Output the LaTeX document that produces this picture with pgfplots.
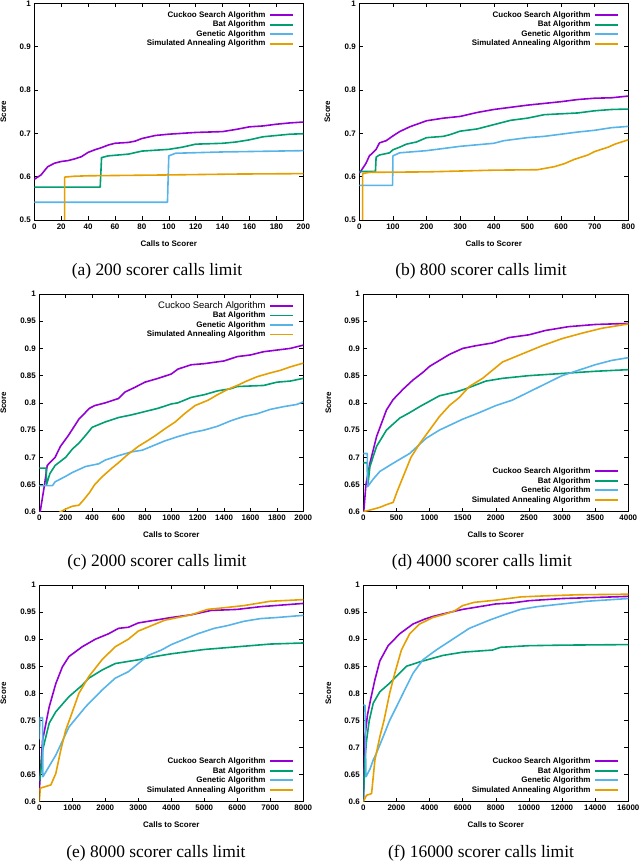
\documentclass[border=0pt]{standalone}
\usepackage{fontspec}
\setmainfont{Liberation Serif}
\setsansfont{Liberation Sans}
\usepackage{pgfplots}
\pgfplotsset{compat=1.18}
\definecolor{cpurple}{HTML}{9400D3}
\definecolor{cgreen}{HTML}{009E73}
\definecolor{cblue}{HTML}{56B4E9}
\definecolor{corange}{HTML}{E69F00}
\newcommand{\tf}{\sffamily\bfseries\fontsize{8}{9}\selectfont}
\newcommand{\capf}{\rmfamily\fontsize{17.5}{20}\selectfont}
\pgfplotsset{
  base/.style={
    scale only axis, anchor=north west,
    axis line style={line width=0.8bp},
    tick style={line width=0.6bp, black},
    major tick length=4bp,
    tick align=inside, xtick pos=both, ytick pos=both,
    tick label style={font=\tf},
    /pgf/number format/assume math mode=true,
    /pgf/number format/1000 sep={},
    /pgf/number format/fixed,
    scaled x ticks=false, scaled y ticks=false,
    xlabel={Calls to Scorer}, ylabel={Score},
    legend plot pos=right,
    legend cell align=right,
    legend image code/.code={\draw[##1] (0bp,0bp) -- (23bp,0bp);},
    legend style={draw=none, fill=none, font=\tf, row sep=0bp, column sep=3bp,
      nodes={inner sep=1bp, text height=6bp, text depth=1.5bp}},
    every axis plot/.append style={line width=1.6bp, line join=round},
  },
  ylab/.style={every axis y label/.style={at={([xshift=-#1]axis description cs:0,0.5)},anchor=center,rotate=90,font=\tf}},
  xlab/.style={every axis x label/.style={at={([yshift=-#1]axis description cs:0.5,0)},anchor=center,font=\tf}},
  legtop/.style={legend style={at={(rel axis cs:1,1)}, anchor=north east, xshift=-6bp, yshift=-5bp}},
  legbot/.style={legend style={at={(rel axis cs:1,0)}, anchor=south east, xshift=-6bp, yshift=5bp}},
  ya/.style={ymin=0.5, ymax=1, ytick={0.5,0.6,0.7,0.8,0.9,1}},
  yc/.style={ymin=0.6, ymax=1, ytick={0.6,0.65,0.7,0.75,0.8,0.85,0.9,0.95,1}},
}
\begin{document}
\begin{tikzpicture}
\useasboundingbox (0,0) rectangle (640bp,-862bp);
% (a)
\begin{axis}[base, ya, ylab=31bp, xlab=24bp, legtop, at={(34.3bp,-3.3bp)}, width=269bp, height=216.7bp,
  xmin=0, xmax=200, xtick={0,20,...,200}]
\addplot[cpurple] coordinates {(0,0.594)(5,0.604)(10,0.623)(15,0.631)(20,0.635)(25,0.637)(30,0.641)(35,0.646)(40,0.656)(45,0.662)(50,0.667)(55,0.673)(60,0.677)(70,0.679)(75,0.682)(80,0.688)(90,0.695)(100,0.698)(120,0.702)(140,0.704)(150,0.709)(160,0.715)(170,0.717)(180,0.721)(190,0.724)(200,0.726)};
\addplot[cgreen] coordinates {(0,0.576)(49,0.576)(50,0.644)(55,0.648)(70,0.652)(80,0.659)(100,0.663)(110,0.668)(120,0.675)(140,0.677)(150,0.680)(160,0.685)(170,0.692)(180,0.695)(190,0.698)(200,0.699)};
\addplot[cblue] coordinates {(0,0.541)(99,0.541)(100,0.648)(105,0.654)(140,0.657)(200,0.660)};
\addplot[corange] coordinates {(22.5,0.4)(22.5,0.599)(30,0.601)(40,0.602)(100,0.604)(150,0.606)(200,0.607)};
\legend{Cuckoo Search Algorithm, Bat Algorithm, Genetic Algorithm, Simulated Annealing Algorithm}
\end{axis}
% (b)
\begin{axis}[base, ya, ylab=32bp, xlab=24bp, legtop, at={(359.3bp,-3.3bp)}, width=269bp, height=216.7bp,
  xmin=0, xmax=800, xtick={0,100,...,800}]
\addplot[cpurple] coordinates {(0,0.608)(10,0.619)(20,0.631)(30,0.648)(40,0.655)(50,0.663)(60,0.678)(80,0.683)(100,0.694)(120,0.704)(150,0.715)(200,0.729)(250,0.735)(300,0.739)(350,0.748)(400,0.755)(450,0.760)(500,0.765)(550,0.769)(600,0.773)(650,0.778)(700,0.781)(750,0.782)(800,0.786)};
\addplot[cgreen] coordinates {(0,0.612)(48,0.612)(50,0.645)(60,0.650)(90,0.655)(100,0.662)(120,0.668)(140,0.675)(170,0.680)(200,0.690)(250,0.693)(270,0.697)(300,0.705)(350,0.710)(400,0.720)(450,0.730)(500,0.735)(550,0.743)(600,0.745)(650,0.747)(700,0.752)(750,0.755)(800,0.756)};
\addplot[cblue] coordinates {(0,0.580)(99,0.580)(100,0.648)(120,0.655)(200,0.660)(250,0.665)(300,0.670)(400,0.677)(430,0.683)(500,0.690)(550,0.693)(600,0.698)(650,0.703)(700,0.707)(750,0.713)(800,0.716)};
\addplot[corange] coordinates {(10,0.4)(10,0.607)(30,0.610)(200,0.611)(300,0.613)(400,0.615)(530,0.616)(580,0.623)(610,0.630)(640,0.640)(680,0.650)(700,0.658)(740,0.668)(760,0.675)(800,0.685)};
\legend{Cuckoo Search Algorithm, Bat Algorithm, Genetic Algorithm, Simulated Annealing Algorithm}
\end{axis}
% (c)
\begin{axis}[base, yc, ylab=36bp, xlab=22.5bp, legtop, at={(39.3bp,-294bp)}, width=264bp, height=217.7bp,
  xmin=0, xmax=2000, xtick={0,200,...,2000}]
\addplot[cpurple] coordinates {(0,0.59)(40,0.65)(60,0.685)(80,0.69)(120,0.7)(160,0.72)(220,0.74)(260,0.755)(300,0.77)(340,0.78)(380,0.79)(420,0.795)(500,0.8)(600,0.808)(650,0.82)(720,0.828)(800,0.838)(900,0.845)(1000,0.853)(1050,0.862)(1150,0.87)(1250,0.872)(1400,0.877)(1500,0.885)(1600,0.888)(1700,0.894)(1800,0.897)(1900,0.9)(2000,0.906)};
\addplot[cgreen] coordinates {(0,0.68)(52,0.68)(55,0.65)(80,0.67)(120,0.685)(200,0.7)(250,0.715)(300,0.726)(350,0.74)(400,0.755)(500,0.765)(600,0.773)(700,0.778)(800,0.784)(900,0.79)(1000,0.798)(1050,0.8)(1150,0.81)(1250,0.815)(1350,0.822)(1450,0.826)(1500,0.83)(1700,0.832)(1800,0.838)(1900,0.84)(2000,0.845)};
\addplot[cblue] coordinates {(0,0.648)(100,0.648)(120,0.655)(200,0.665)(250,0.672)(350,0.683)(450,0.688)(500,0.695)(600,0.703)(700,0.71)(780,0.713)(850,0.72)(950,0.73)(1050,0.738)(1150,0.745)(1250,0.75)(1350,0.757)(1450,0.767)(1550,0.775)(1650,0.78)(1750,0.788)(1850,0.793)(1950,0.797)(2000,0.802)};
\addplot[corange] coordinates {(140,0.597)(200,0.605)(250,0.61)(300,0.612)(330,0.62)(380,0.635)(420,0.65)(480,0.665)(550,0.68)(600,0.69)(670,0.705)(750,0.72)(830,0.732)(880,0.74)(950,0.752)(1030,0.765)(1100,0.78)(1180,0.795)(1280,0.805)(1350,0.815)(1430,0.825)(1500,0.832)(1570,0.84)(1650,0.848)(1750,0.855)(1830,0.86)(1900,0.866)(2000,0.873)};
\addlegendentry{{\fontsize{9.5}{10}\selectfont\mdseries Cuckoo Search Algorithm}}
\addlegendentry{Bat Algorithm}
\addlegendentry{Genetic Algorithm}
\addlegendentry{Simulated Annealing Algorithm}
\end{axis}
% (d)
\begin{axis}[base, yc, ylab=35bp, xlab=22.5bp, legbot, at={(363.3bp,-294bp)}, width=265bp, height=217.7bp,
  xmin=0, xmax=4000, xtick={0,500,...,4000}]
\addplot[cpurple] coordinates {(0,0.59)(40,0.65)(100,0.689)(200,0.738)(350,0.787)(450,0.806)(600,0.825)(750,0.842)(900,0.856)(1000,0.867)(1150,0.878)(1300,0.889)(1500,0.9)(1700,0.905)(1950,0.91)(2200,0.92)(2500,0.925)(2750,0.933)(3100,0.94)(3500,0.944)(4000,0.946)};
\addplot[cgreen] coordinates {(0,0.69)(60,0.69)(70,0.65)(100,0.683)(200,0.72)(350,0.75)(550,0.772)(700,0.782)(850,0.793)(1000,0.803)(1150,0.813)(1400,0.82)(1550,0.826)(1700,0.833)(1850,0.84)(2100,0.845)(2500,0.85)(3000,0.854)(3500,0.858)(4000,0.861)};
\addplot[cblue] coordinates {(0,0.707)(60,0.707)(65,0.646)(150,0.66)(250,0.674)(450,0.689)(700,0.707)(950,0.735)(1150,0.75)(1500,0.77)(1750,0.782)(2000,0.795)(2250,0.805)(2500,0.82)(2750,0.835)(3000,0.85)(3250,0.86)(3500,0.87)(3750,0.878)(4000,0.883)};
\addplot[corange] coordinates {(0,0.6)(100,0.603)(250,0.608)(350,0.613)(450,0.617)(520,0.64)(620,0.67)(720,0.7)(850,0.725)(1000,0.75)(1150,0.775)(1300,0.795)(1450,0.81)(1600,0.83)(1800,0.845)(1950,0.86)(2100,0.875)(2400,0.89)(2700,0.905)(3000,0.918)(3300,0.928)(3600,0.937)(4000,0.945)};
\legend{Cuckoo Search Algorithm, Bat Algorithm, Genetic Algorithm, Simulated Annealing Algorithm}
\end{axis}
% (e)
\begin{axis}[base, yc, ylab=36bp, xlab=23bp, legbot, at={(39.3bp,-585bp)}, width=264bp, height=216.7bp,
  xmin=0, xmax=8000, xtick={0,1000,...,8000}]
\addplot[cpurple] coordinates {(0,0.62)(100,0.714)(300,0.775)(500,0.818)(700,0.849)(900,0.868)(1300,0.886)(1700,0.90)(2100,0.91)(2400,0.92)(2700,0.922)(3000,0.93)(3500,0.935)(4000,0.94)(4600,0.945)(5200,0.953)(6000,0.955)(6700,0.96)(8000,0.966)};
\addplot[cgreen] coordinates {(0,0.64)(20,0.64)(100,0.695)(300,0.745)(500,0.766)(900,0.794)(1300,0.815)(1500,0.828)(1900,0.843)(2300,0.855)(3000,0.862)(3500,0.868)(4000,0.873)(5000,0.881)(6000,0.886)(7000,0.891)(8000,0.893)};
\addplot[cblue] coordinates {(0,0.715)(20,0.755)(100,0.755)(110,0.646)(500,0.686)(900,0.738)(1400,0.775)(1900,0.806)(2300,0.828)(2700,0.84)(3000,0.855)(3300,0.87)(3700,0.88)(4000,0.89)(4400,0.90)(4800,0.91)(5300,0.92)(5700,0.925)(6200,0.933)(6700,0.938)(7200,0.94)(8000,0.944)};
\addplot[corange] coordinates {(0,0.60)(30,0.625)(350,0.631)(500,0.652)(650,0.695)(800,0.732)(950,0.757)(1200,0.80)(1500,0.831)(1900,0.862)(2300,0.886)(2700,0.90)(3000,0.915)(3400,0.925)(3800,0.935)(4200,0.94)(4600,0.945)(5100,0.955)(5600,0.958)(6200,0.962)(6500,0.965)(7000,0.97)(8000,0.973)};
\legend{Cuckoo Search Algorithm, Bat Algorithm, Genetic Algorithm, Simulated Annealing Algorithm}
\end{axis}
% (f)
\begin{axis}[base, yc, ylab=35bp, xlab=23bp, legbot, at={(363.3bp,-585bp)}, width=265bp, height=216.7bp,
  xmin=0, xmax=16000, xtick={0,2000,...,16000}]
\addplot[cpurple] coordinates {(0,0.6)(50,0.65)(100,0.72)(250,0.76)(450,0.79)(700,0.825)(1000,0.86)(1500,0.888)(2200,0.91)(3000,0.928)(3700,0.937)(4200,0.942)(5000,0.948)(6000,0.955)(7000,0.96)(8000,0.965)(9000,0.967)(10000,0.971)(12000,0.975)(14000,0.977)(16000,0.979)};
\addplot[cgreen] coordinates {(0,0.6)(100,0.68)(200,0.714)(360,0.75)(600,0.782)(1000,0.803)(1600,0.819)(2600,0.85)(3400,0.858)(4800,0.87)(6000,0.876)(7800,0.88)(8300,0.885)(10000,0.888)(12000,0.889)(16000,0.89)};
\addplot[cblue] coordinates {(0,0.778)(100,0.778)(160,0.646)(400,0.66)(600,0.677)(785,0.689)(1200,0.72)(1590,0.75)(2000,0.775)(2400,0.8)(3000,0.837)(3600,0.862)(4400,0.88)(5400,0.9)(6400,0.92)(7600,0.935)(8500,0.945)(9500,0.955)(10500,0.96)(12000,0.965)(13500,0.97)(16000,0.975)};
\addplot[corange] coordinates {(0,0.6)(200,0.612)(500,0.615)(700,0.677)(1000,0.72)(1250,0.75)(1590,0.8)(1900,0.837)(2300,0.88)(2800,0.91)(3400,0.928)(4200,0.94)(4800,0.945)(5500,0.952)(6000,0.962)(6700,0.968)(8000,0.972)(9500,0.978)(11000,0.98)(13000,0.982)(16000,0.983)};
\legend{Cuckoo Search Algorithm, Bat Algorithm, Genetic Algorithm, Simulated Annealing Algorithm}
\end{axis}
\node[font=\capf] at (157bp,-271.7bp) {(a) 200 scorer calls limit};
\node[font=\capf] at (481bp,-271.7bp) {(b) 800 scorer calls limit};
\node[font=\capf] at (157bp,-562.7bp) {(c) 2000 scorer calls limit};
\node[font=\capf] at (482bp,-562.7bp) {(d) 4000 scorer calls limit};
\node[font=\capf] at (156bp,-853.3bp) {(e) 8000 scorer calls limit};
\node[font=\capf] at (481bp,-853.3bp) {(f) 16000 scorer calls limit};
\end{tikzpicture}
\end{document}
